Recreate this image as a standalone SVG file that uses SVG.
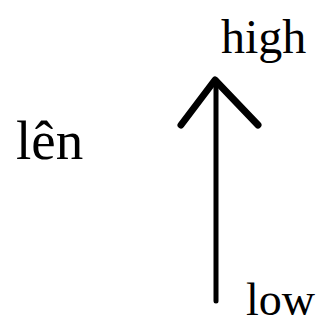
<svg xmlns="http://www.w3.org/2000/svg" width="324" height="326" viewBox="0 0 324 326">
<style>
text{font-family:"Liberation Serif","Times New Roman",serif;fill:#000}
.ln{stroke:#000;fill:none;stroke-linecap:round;stroke-linejoin:round}
</style>
<rect width="324" height="326" fill="#fff"/>
<g id="label-len"><text x="16" y="159" font-size="55">lên</text></g>
<g id="label-high"><text x="221" y="53" font-size="48">high</text></g>
<g id="label-low"><text x="246" y="315" font-size="46">low</text></g>
<g id="connectors">
<line class="ln" x1="216" y1="80" x2="216" y2="301" stroke-width="5"/>
<polyline class="ln" points="181,125 215,80 258,125" stroke-width="7"/>
</g>
</svg>
